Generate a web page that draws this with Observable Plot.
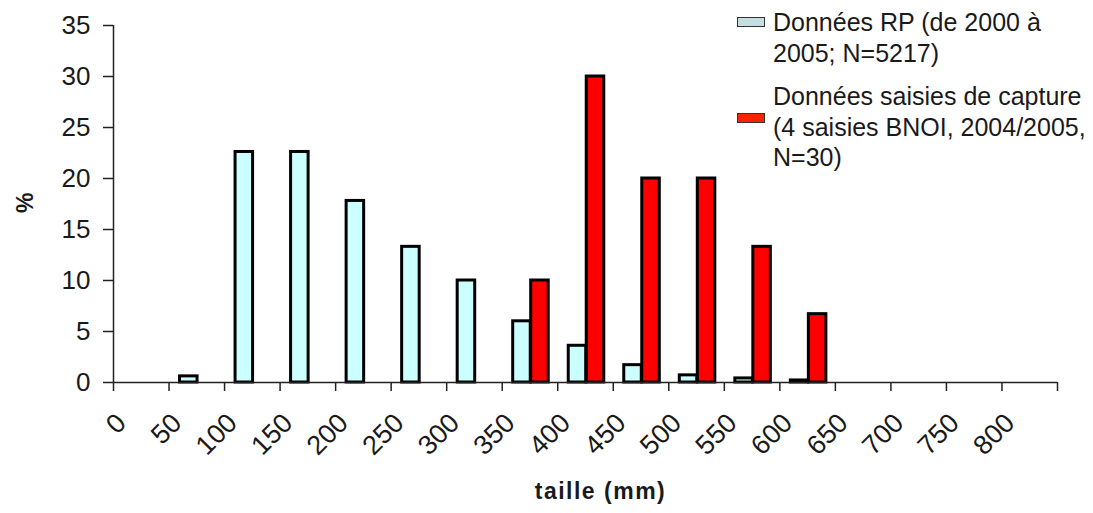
<!DOCTYPE html>
<html>
<head>
<meta charset="utf-8">
<script src="https://cdn.jsdelivr.net/npm/d3@7"></script>
<script src="https://cdn.jsdelivr.net/npm/@observablehq/plot@0.6"></script>
<style>
  html, body { margin: 0; padding: 0; background: #fff; }
  #chart { position: relative; width: 1093px; height: 513px; font-family: "Liberation Sans", Arial, sans-serif; color: #1a1a1a; }
  .legend { position: absolute; left: 0; top: 0; font-size: 25px; line-height: 30.5px; color: #1a1a1a; }
  .entry { position: absolute; left: 773px; white-space: nowrap; }
  .swatch { position: absolute; width: 26px; height: 8px; border: 1.5px solid #333; }
</style>
</head>
<body>
<div id="chart"></div>
<script>
// Size classes (mm), lower bound of each 50 mm class
const tailles = [0, 50, 100, 150, 200, 250, 300, 350, 400, 450, 500, 550, 600, 650, 700, 750, 800];
// Percentage per class, RP data 2000-2005 (N=5217)
const rp = [0, 0.6, 22.6, 22.6, 17.8, 13.3, 10.0, 6.0, 3.6, 1.7, 0.7, 0.4, 0.2, 0, 0, 0, 0];
// Percentage per class, capture seizures 2004/2005 (N=30)
const capture = [0, 0, 0, 0, 0, 0, 0, 10.0, 30.0, 20.0, 20.0, 13.3, 6.7, 0, 0, 0, 0];
const yTicks = [0, 5, 10, 15, 20, 25, 30, 35];
const classWidth = 50;

const series = [
  {key: "rp", label: ["Données RP (de 2000 à", "2005; N=5217)"], values: rp, color: "#ccffff"},
  {key: "capture", label: ["Données saisies de capture", "(4 saisies BNOI, 2004/2005,", "N=30)"], values: capture, color: "#ff0000"}
];

const rows = s => tailles.map((t, i) => ({taille: t, pct: s.values[i]})).filter(d => d.pct > 0);
const font = "'Liberation Sans', Arial, sans-serif";

const chart = Plot.plot({
  width: 1093,
  height: 513,
  marginLeft: 113,
  marginRight: 36,
  marginTop: 25,
  marginBottom: 131,
  style: {fontFamily: font, color: "#1a1a1a", background: "#fff"},
  x: {domain: [0, tailles[tailles.length - 1] + classWidth]},
  y: {domain: [0, 35]},
  marks: [
    // RP bars (left half of each class)
    Plot.rect(rows(series[0]), {
      x1: "taille", x2: d => d.taille + classWidth, y1: 0, y2: "pct",
      fill: series[0].color, stroke: "#000", strokeWidth: 3,
      insetLeft: 11, insetRight: 27
    }),
    // capture bars (right half of each class)
    Plot.rect(rows(series[1]), {
      x1: "taille", x2: d => d.taille + classWidth, y1: 0, y2: "pct",
      fill: series[1].color, stroke: "#000", strokeWidth: 3,
      insetLeft: 29, insetRight: 9
    }),
    // axis lines
    Plot.ruleY([0], {stroke: "#222", strokeWidth: 1.5}),
    Plot.ruleX([0], {stroke: "#222", strokeWidth: 1.5}),
    // class boundary ticks
    Plot.axisX({
      ticks: tailles.concat(tailles[tailles.length - 1] + classWidth),
      tickSize: 9, tickFormat: () => "", label: null, stroke: "#222", strokeWidth: 1.5
    }),
    // rotated class labels
    Plot.axisX({
      ticks: tailles, tickSize: 0, tickPadding: 36, tickRotate: -45,
      textAnchor: "end", dx: 8, fontSize: 27, label: null, tickFormat: d => String(d)
    }),
    Plot.axisY({
      ticks: yTicks, tickSize: 10, tickPadding: 13, fontSize: 26, label: null,
      stroke: "#222", strokeWidth: 1.5, tickFormat: d => String(d)
    }),
    // axis titles
    Plot.text(["%"], {frameAnchor: "left", dx: -88, dy: 9, rotate: -90, fontSize: 23, fontWeight: "bold"}),
    Plot.text(["taille (mm)"], {frameAnchor: "bottom", dx: 15, dy: 116, fontSize: 23, fontWeight: "bold"})
  ]
});

chart.querySelectorAll("text").forEach(t => {
  if (t.textContent === "taille (mm)") t.setAttribute("letter-spacing", "1.5");
});

const root = document.getElementById("chart");
root.appendChild(chart);

// legend, top right
const legend = document.createElement("div");
legend.className = "legend";
const entryTops = [7, 81];
const swatchTops = [17, 113];
series.forEach((s, i) => {
  const sw = document.createElement("div");
  sw.className = "swatch";
  sw.style.left = "737px";
  sw.style.top = swatchTops[i] + "px";
  sw.style.background = i === 0 ? "#c6dde2" : "#ff2200";
  legend.appendChild(sw);
  const e = document.createElement("div");
  e.className = "entry";
  e.style.top = entryTops[i] + "px";
  e.innerHTML = s.label.join("<br>");
  legend.appendChild(e);
});
root.appendChild(legend);
</script>
</body>
</html>
